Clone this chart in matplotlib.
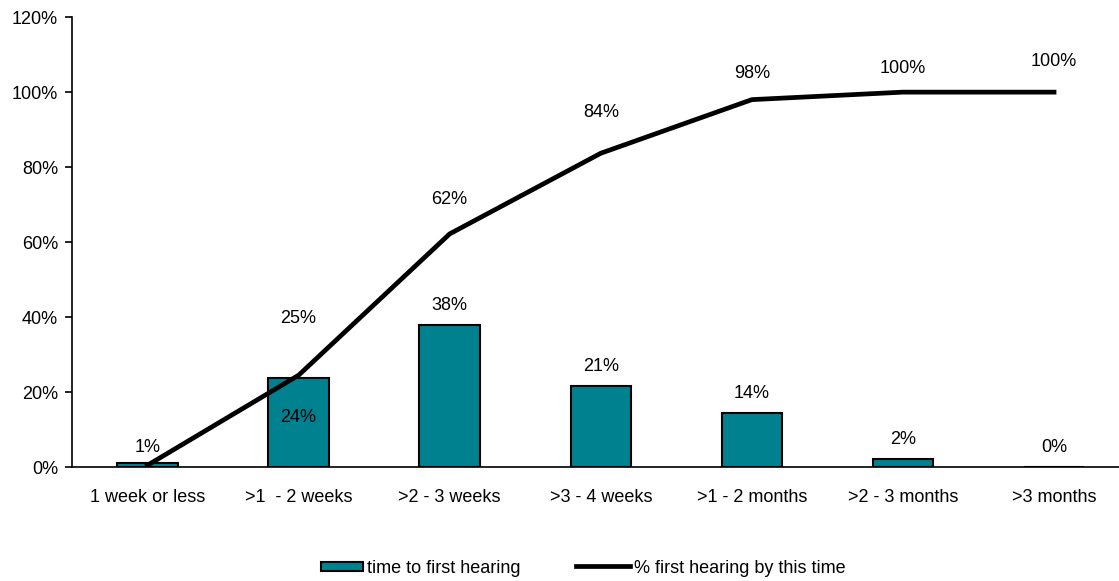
import numpy as np
import matplotlib.pyplot as plt
from matplotlib.ticker import PercentFormatter
from matplotlib.legend_handler import HandlerPatch
from matplotlib.patches import Rectangle

# данные
categories = ['1 week or less', '>1  - 2 weeks', '>2 - 3 weeks', '>3 - 4 weeks',
              '>1 - 2 months', '>2 - 3 months', '>3 months']
time_to_first = [1.1, 23.7, 37.9, 21.6, 14.4, 2.1, 0.0]
bar_labels = ['1%', '24%', '38%', '21%', '14%', '2%', '0%']
cumulative = [0.5, 24.5, 62.2, 83.7, 98.0, 100.0, 100.0]
line_labels = ['', '25%', '62%', '84%', '98%', '100%', '100%']

plt.rcParams['font.family'] = ['Liberation Sans', 'DejaVu Sans']
plt.rcParams['font.size'] = 13

teal = '#00818F'
x = np.arange(len(categories))

fig = plt.figure(figsize=(11.19, 5.81), dpi=100)
ax = fig.add_axes([0.0643, 0.196, 0.9357, 0.7745])

bars = ax.bar(x, time_to_first, width=0.4, color=teal, edgecolor='black',
              linewidth=1.5, label='time to first hearing', zorder=2)
line, = ax.plot(x, cumulative, color='black', linewidth=3.4,
                label='% first hearing by this time', zorder=3)

# подписи столбцов (у второго столбца подпись внутри)
bar_offsets = [11, -28, 14, 14, 14, 14, 14]
for xi, v, lab, off in zip(x, time_to_first, bar_labels, bar_offsets):
    ax.annotate(lab, (xi, v), xytext=(0, off), textcoords='offset points',
                ha='center', va='center')

# подписи линии
line_offsets = [0, 41, 25, 29, 19, 17, 22]
for xi, v, lab, off in zip(x, cumulative, line_labels, line_offsets):
    if lab:
        ax.annotate(lab, (xi, v), xytext=(0, off), textcoords='offset points',
                    ha='center', va='center')

ax.set_ylim(0, 120)
ax.set_yticks(np.arange(0, 121, 20))
ax.yaxis.set_major_formatter(PercentFormatter(decimals=0))
ax.set_xlim(-0.5, 6.43)
ax.set_xticks(x)
ax.set_xticklabels(categories)
ax.tick_params(axis='x', length=0, pad=16)
ax.tick_params(axis='y', length=5, width=1.2, direction='out', pad=5)

for s in ['top', 'right']:
    ax.spines[s].set_visible(False)
ax.spines['left'].set_linewidth(1.2)
ax.spines['bottom'].set_linewidth(1.2)


# прямоугольник в легенде поуже, чем линия
def small_rect(legend, orig_handle, xdescent, ydescent, width, height, fontsize):
    w = width * 0.78
    return Rectangle((-xdescent + width - w, -ydescent + height * 0.15), w, height * 0.7)


bar_handle = bars.patches[0]
fig.legend(handles=[bar_handle, line],
           labels=['time to first hearing', '% first hearing by this time'],
           loc='center', bbox_to_anchor=(0.516, 0.022),
           ncol=2, frameon=False, handlelength=3.0, handleheight=0.7,
           handletextpad=0.2, columnspacing=3.1,
           handler_map={bar_handle: HandlerPatch(patch_func=small_rect)})

plt.savefig('out.png', dpi=100)
